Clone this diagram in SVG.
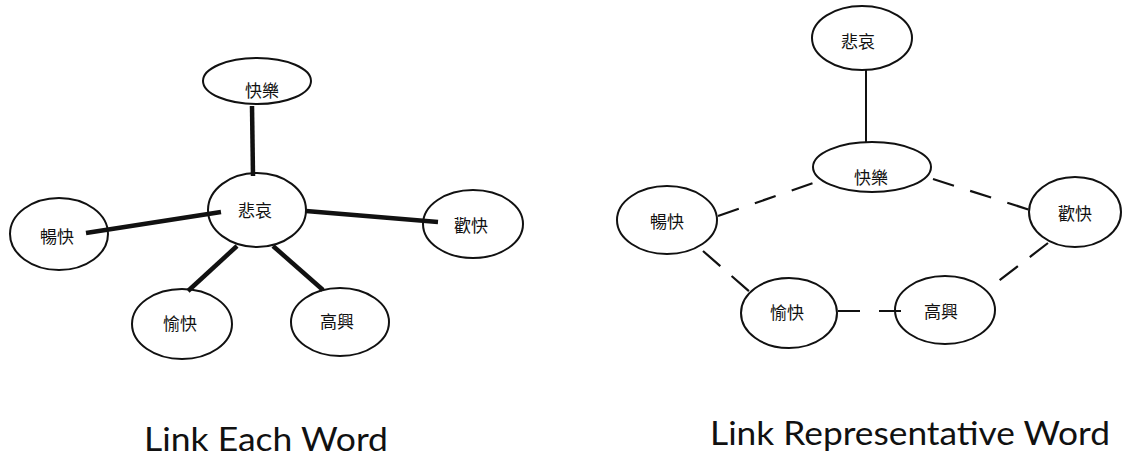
<svg xmlns="http://www.w3.org/2000/svg" width="1126" height="458" viewBox="0 0 1126 458">
  <style>
    .bg { fill: #ffffff; }
    .node ellipse { fill: none; stroke: #111; stroke-width: 2; }
    .node text { font-family: "Noto Sans CJK TC", "Noto Sans CJK SC", sans-serif; font-size: 17px; fill: #111; text-anchor: middle; dominant-baseline: central; }
    .thick { stroke: #111; stroke-width: 4.5; stroke-linecap: butt; fill: none; }
    .thin { stroke: #111; stroke-width: 2; fill: none; }
    .dash { stroke: #111; stroke-width: 2.2; fill: none; stroke-dasharray: 22 17; }
    .caption { font-family: "Lato", "Liberation Sans", sans-serif; font-size: 32px; fill: #111; }
  </style>
  <rect class="bg" width="1126" height="458"/>

  <!-- links: left star, right chain -->
  <g id="connectors">
    <line class="thick" x1="252" y1="106" x2="253" y2="176"/>
    <line class="thick" x1="86" y1="233" x2="221" y2="212"/>
    <line class="thick" x1="306" y1="211" x2="438" y2="222"/>
    <line class="thick" x1="237" y1="246" x2="188" y2="291"/>
    <line class="thick" x1="273" y1="246" x2="323" y2="290"/>

    <line class="thin" x1="866" y1="70" x2="866" y2="143"/>
    <line class="dash" x1="718" y1="216" x2="816" y2="182"/>
    <line class="dash" x1="933" y1="179" x2="1030" y2="210"/>
    <line class="dash" x1="703" y1="251" x2="751" y2="293" style="stroke-dasharray: 23 15"/>
    <line class="dash" x1="1048" y1="243" x2="996" y2="283" style="stroke-dasharray: 23 15"/>
    <line class="dash" x1="838" y1="311" x2="902" y2="311" style="stroke-dasharray: 22 19"/>
  </g>

  <!-- left diagram: every word linked to the centre -->
  <g id="l-kuaile" class="node"><ellipse cx="257" cy="81" rx="54" ry="23"/><text x="262" y="89">快樂</text></g>
  <g id="l-beiai" class="node"><ellipse cx="257" cy="210" rx="49" ry="37"/><text x="255" y="209">悲哀</text></g>
  <g id="l-changkuai" class="node"><ellipse cx="59" cy="234" rx="49" ry="36"/><text x="57" y="235">暢快</text></g>
  <g id="l-huankuai" class="node"><ellipse cx="473" cy="224" rx="50" ry="34"/><text x="471" y="224">歡快</text></g>
  <g id="l-yukuai" class="node"><ellipse cx="182" cy="324" rx="50" ry="35"/><text x="180" y="322">愉快</text></g>
  <g id="l-gaoxing" class="node"><ellipse cx="340" cy="322" rx="49" ry="34"/><text x="337" y="320">高興</text></g>

  <!-- right diagram: words linked through a representative -->
  <g id="r-beiai" class="node"><ellipse cx="862" cy="38" rx="50" ry="32"/><text x="858" y="40">悲哀</text></g>
  <g id="r-kuaile" class="node"><ellipse cx="872" cy="167" rx="59" ry="25"/><text x="871" y="176">快樂</text></g>
  <g id="r-changkuai" class="node"><ellipse cx="667" cy="220" rx="50" ry="34"/><text x="667" y="220">暢快</text></g>
  <g id="r-huankuai" class="node"><ellipse cx="1075" cy="212" rx="46" ry="35"/><text x="1075" y="212">歡快</text></g>
  <g id="r-yukuai" class="node"><ellipse cx="789" cy="313" rx="48" ry="35"/><text x="787" y="311">愉快</text></g>
  <g id="r-gaoxing" class="node"><ellipse cx="945" cy="310" rx="50" ry="34"/><text x="941" y="310">高興</text></g>

  <g id="captions">
    <text class="caption" x="144" y="451" textLength="244" lengthAdjust="spacingAndGlyphs">Link Each Word</text>
    <text class="caption" x="710" y="445" textLength="400" lengthAdjust="spacingAndGlyphs">Link Representative Word</text>
  </g>
</svg>
